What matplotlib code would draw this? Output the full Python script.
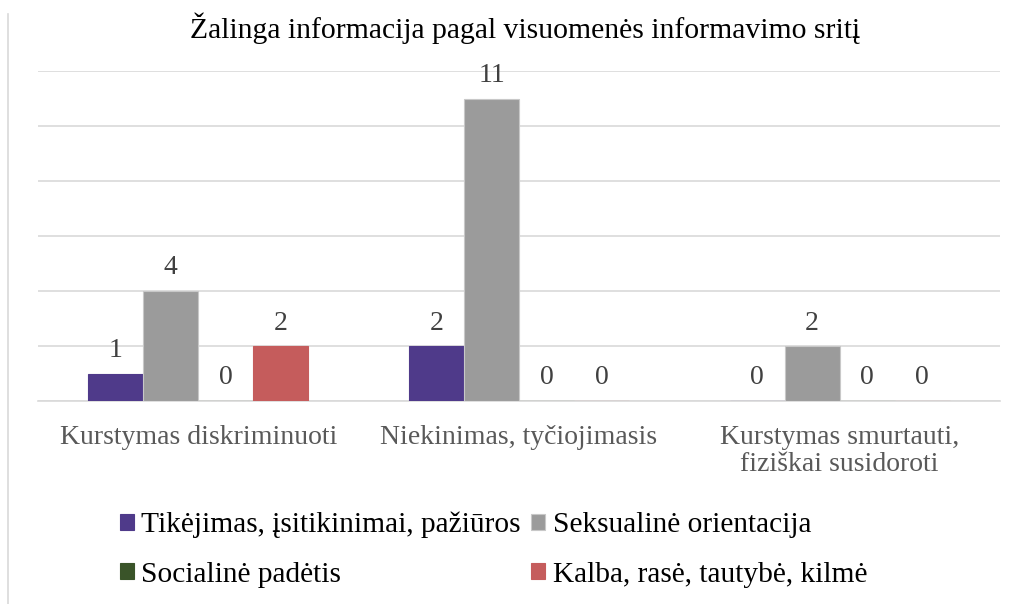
import matplotlib
matplotlib.use("Agg")
import matplotlib.pyplot as plt
import numpy as np
from matplotlib.lines import Line2D

categories = ["Kurstymas diskriminuoti", "Niekinimas, tyčiojimasis",
              "Kurstymas smurtauti,\nfiziškai susidoroti"]
series = ["Tikėjimas, įsitikinimai, pažiūros", "Seksualinė orientacija",
          "Socialinė padėtis", "Kalba, rasė, tautybė, kilmė"]
tikejimas = [1, 2, 0]
seksualine = [4, 11, 2]
socialine = [0, 0, 0]
kalba = [2, 0, 0]
colors = ["#4F3A8A", "#9B9B9B", "#3A5429", "#C55C5C"]

plt.rcParams["font.family"] = ["Liberation Serif", "DejaVu Serif"]

fig = plt.figure(figsize=(10.23, 6.04), dpi=100)
ax = fig.add_axes([38 / 1023, 1 - 401 / 604, 962 / 1023, 330 / 604])

x = np.arange(len(categories))
w = 0.1715
handles = []
for j, (vals, col, name) in enumerate(zip([tikejimas, seksualine, socialine, kalba], colors, series)):
    pos = x + (j - 1.5) * w
    ec = "#C8C8C8" if j == 1 else col
    bars = ax.bar(pos, vals, w, color=col, edgecolor=ec, linewidth=0.8, label=name, zorder=3)
    handles.append(bars)
    for xp, v in zip(pos, vals):
        ax.annotate(str(v), (xp, v), xytext=(0, 23 * 0.72), textcoords="offset points",
                    ha="center", va="center", fontsize=20, color="#404040")

ax.set_xlim(-0.5, 2.5)
ax.set_ylim(0, 12)
ax.set_yticks(np.arange(0, 13, 2))
ax.yaxis.grid(True, color="#D9D9D9", linewidth=1.2, zorder=0)
ax.tick_params(axis="y", left=False, labelleft=False)
ax.tick_params(axis="x", bottom=False, pad=14)
ax.set_xticks(x)
ax.set_xticklabels(categories, fontsize=20, color="#595959", linespacing=1.1)
for s in ["top", "right", "left"]:
    ax.spines[s].set_visible(False)
ax.spines["bottom"].set_color("#D9D9D9")
ax.spines["bottom"].set_linewidth(1.2)

fig.text(525 / 1023, 1 - 28 / 604, "Žalinga informacija pagal visuomenės informavimo sritį",
         ha="center", va="center", fontsize=21.3, color="black")

# row-major order in a 2-column legend
order = [0, 2, 1, 3]
leg = fig.legend([handles[i] for i in order], [series[i] for i in order],
                 loc="upper left", bbox_to_anchor=(120 / 1023, 1 - 512 / 604), ncol=2,
                 frameon=False, fontsize=21.2, handlelength=0.47, handleheight=0.47,
                 handletextpad=0.26, columnspacing=0.35, labelspacing=0.79, borderpad=0,
                 borderaxespad=0)

fig.add_artist(Line2D([8 / 1023, 8 / 1023], [0, 1 - 14 / 604], color="#D9D9D9", linewidth=1.2))

fig.savefig("out.png", dpi=100)
